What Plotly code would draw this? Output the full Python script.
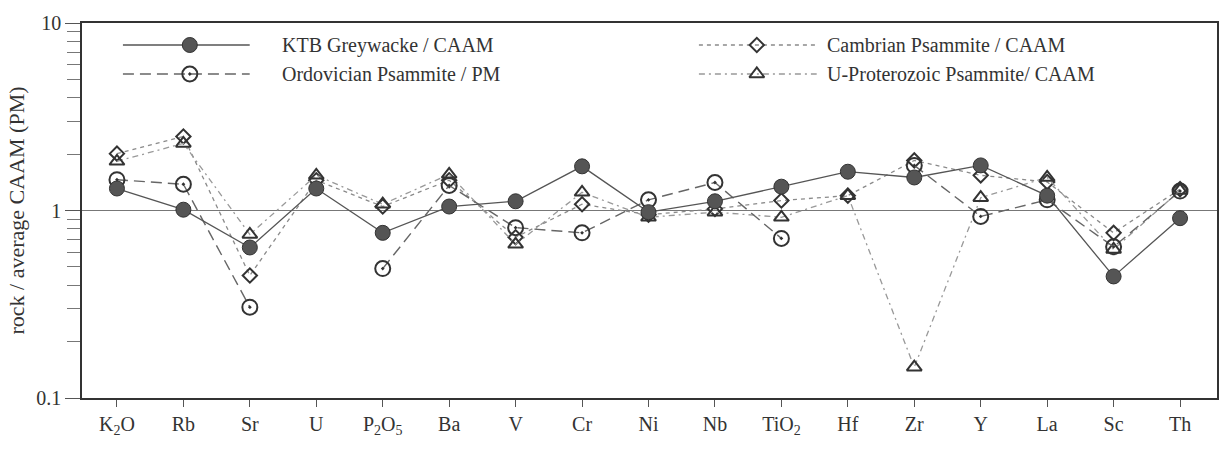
import plotly.graph_objects as go

# ---------------- data ----------------
elements = ["K<sub>2</sub>O", "Rb", "Sr", "U", "P<sub>2</sub>O<sub>5</sub>", "Ba", "V", "Cr", "Ni",
            "Nb", "TiO<sub>2</sub>", "Hf", "Zr", "Y", "La", "Sc", "Th"]
ktb_greywacke = [1.31, 1.01, 0.635, 1.31, 0.76, 1.05, 1.12, 1.72, 0.98, 1.12, 1.34, 1.61, 1.50, 1.74, 1.20, 0.445, 0.91]
ordovician = [1.46, 1.38, 0.305, None, 0.49, 1.36, 0.81, 0.76, 1.14, 1.41, 0.71, None, 1.74, 0.93, 1.14, 0.64, 1.27]
cambrian = [2.01, 2.48, 0.45, 1.45, 1.05, 1.45, 0.72, 1.08, 0.95, 1.02, 1.13, 1.20, 1.85, 1.54, 1.42, 0.76, 1.30]
u_proterozoic = [1.83, 2.28, 0.745, 1.54, 1.08, 1.56, 0.66, 1.25, 0.92, 0.98, 0.92, 1.20, 0.146, 1.17, 1.50, 0.62, 1.28]

names = ["KTB Greywacke / CAAM", "Ordovician Psammite / PM",
         "Cambrian Psammite / CAAM", "U-Proterozoic Psammite/ CAAM"]

FONT = "Liberation Serif"
styles = {
    names[0]: dict(line=dict(color="#555555", width=1.3, dash="solid"),
                   marker=dict(symbol="circle", size=15, color="#555555", line=dict(color="#333333", width=1))),
    names[1]: dict(line=dict(color="#666666", width=1.4, dash="11px,6px"),
                   marker=dict(symbol="circle-open-dot", size=15, color="#333333", line=dict(color="#333333", width=2))),
    names[2]: dict(line=dict(color="#8a8a8a", width=1.3, dash="4px,4px"),
                   marker=dict(symbol="diamond-open", size=11, color="#333333", line=dict(color="#333333", width=2))),
    names[3]: dict(line=dict(color="#999999", width=1.3, dash="6px,4px,2px,4px"),
                   marker=dict(symbol="triangle-up-open", size=13, color="#333333", line=dict(color="#333333", width=2))),
}
series = [ktb_greywacke, ordovician, cambrian, u_proterozoic]
draw_order = [2, 3, 1, 0]

fig = go.Figure()
for i in draw_order:
    fig.add_trace(go.Scatter(x=elements, y=series[i], mode="lines+markers", name=names[i],
                             connectgaps=False, showlegend=False, cliponaxis=False, **styles[names[i]]))

# ---------------- custom legend (pixel coordinates on an overlay axis) ----------------
L, R, T, B = 82, 1219, 23, 398
legend_rows = [(names[0], 123, 250, 190, 280, 45), (names[1], 123, 250, 190, 280, 74),
               (names[2], 700, 818, 758, 826, 45), (names[3], 700, 818, 758, 826, 74)]
for nm, x0, x1, xm, xt, yy in legend_rows:
    st = styles[nm]
    fig.add_trace(go.Scatter(x=[x0, x1], y=[yy, yy], xaxis="x2", yaxis="y2", mode="lines",
                             line=st["line"], showlegend=False, hoverinfo="skip"))
    fig.add_trace(go.Scatter(x=[xm], y=[yy], xaxis="x2", yaxis="y2", mode="markers",
                             marker=st["marker"], showlegend=False, hoverinfo="skip"))
    fig.add_annotation(x=xt, y=yy, xref="x2", yref="y2", text=nm, showarrow=False,
                       xanchor="left", yanchor="middle", font=dict(family=FONT, size=20, color="#333333"))

fig.add_hline(y=1, line=dict(color="#777777", width=1.2), layer="below")

fig.update_layout(
    width=1219, height=451,
    margin=dict(l=L, r=1219 - R, t=T, b=451 - B),
    paper_bgcolor="white", plot_bgcolor="white",
    font=dict(family=FONT, size=19, color="#333333"),
    showlegend=False,
    xaxis=dict(type="category", range=[-0.526, 16.556], showgrid=False, zeroline=False,
               showline=True, linecolor="#333333", linewidth=1.5, mirror=True,
               ticks="outside", ticklen=7, tickcolor="#555555",
               tickfont=dict(family=FONT, size=20, color="#333333")),
    yaxis=dict(type="log", range=[-1, 1], showgrid=False, zeroline=False,
               showline=True, linecolor="#333333", linewidth=1.5, mirror=True,
               tickvals=[0.1, 1, 10], ticktext=["0.1", "1", "10"],
               ticks="outside", ticklen=15, tickcolor="#555555",
               minor=dict(ticks="outside", ticklen=13, tickcolor="#777777",
                          tickvals=[0.2, 0.3, 0.4, 0.5, 0.6, 0.7, 0.8, 0.9, 2, 3, 4, 5, 6, 7, 8, 9]),
               tickfont=dict(family=FONT, size=20, color="#333333"),
               title=dict(text="rock / average CAAM (PM)", font=dict(family=FONT, size=22, color="#333333"),
                          standoff=6)),
    xaxis2=dict(overlaying="x", range=[L, R], visible=False, domain=[0, 1]),
    yaxis2=dict(overlaying="y", range=[B, T], visible=False),
)

fig.write_html("out.html")
